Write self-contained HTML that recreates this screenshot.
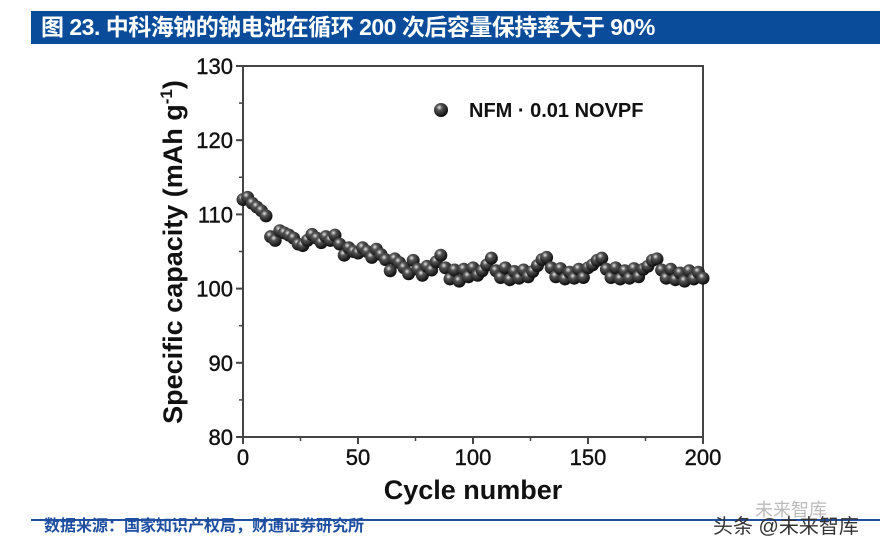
<!DOCTYPE html>
<html><head><meta charset="utf-8"><style>
body{margin:0;background:#fff;width:896px;height:555px;overflow:hidden;position:relative;font-family:"Liberation Sans","Noto Sans CJK SC",sans-serif}
.title{position:absolute;left:31px;top:11px;width:849px;height:33px;background:#0a4b9a;color:#fff;font-size:23px;font-weight:bold;line-height:33px;padding-left:10px;box-sizing:border-box;letter-spacing:-0.5px}
.rule{position:absolute;left:31px;top:519px;width:849px;height:2px;background:#1f4fa0}
.src{position:absolute;left:44px;top:517px;font-size:16px;font-weight:bold;color:#1f4fa0;line-height:20px}
.wm{position:absolute;left:713px;top:515px;font-size:20px;color:#333;line-height:24px}
.wm2{position:absolute;left:755px;top:500px;font-size:18px;color:#bbb;line-height:20px}
</style></head><body>
<div class="title">图 23. 中科海钠的钠电池在循环 200 次后容量保持率大于 90%</div>
<svg width="896" height="555" style="position:absolute;left:0;top:0">
<defs><radialGradient id="sp" cx="0.38" cy="0.32" r="0.7"><stop offset="0" stop-color="#e8e8e8"/><stop offset="0.3" stop-color="#555"/><stop offset="1" stop-color="#080808"/></radialGradient></defs>
<g id="g"></g>
</svg>
<div class="rule"></div>
<div class="src">数据来源：国家知识产权局，财通证券研究所</div>
<div class="wm2">未来智库</div>
<div class="wm">头条 @未来智库</div>
<script>
const xTicks=[0,50,100,150,200];
const yTicks=[80,90,100,110,120,130];
const cycles=[];for(let c=0;c<=200;c+=2)cycles.push(c);
const capacity=[112,112.3,111.5,111,110.5,109.8,
107,106.5,107.8,107.5,107.2,106.8,106,105.8,106.5,107.3,
106.8,106.2,107,106.5,107.2,106,104.5,105.5,105,104.8,
105.5,105,104.2,105.3,104.6,103.9,102.4,104,103.5,102.8,
102,103.8,102.6,101.8,103,102.5,103.6,104.5,102.8,101.3,
102.5,101,102.6,101.6,102.8,101.8,102.4,103.2,104.1,102.4,
101.5,102.8,101.2,102.3,101.4,102.5,101.6,102.3,103.1,103.9,
104.2,102.8,101.6,102.7,101.3,102.2,101.4,102.6,101.5,102.8,
103.2,103.8,104.1,102.6,101.5,102.8,101.3,102.4,101.4,102.7,
101.6,102.6,103,103.8,104,102.5,101.4,102.6,101.2,102.1,
101,102.4,101.3,102.2,101.4];
const X0=243,X1=703,Y0=437,Y1=66;
const sx=v=>X0+(v-0)/200*(X1-X0), sy=v=>Y0-(v-80)/50*(Y0-Y1);
const g=document.getElementById('g'),NS='http://www.w3.org/2000/svg';
function mk(t,a,txt){const e=document.createElementNS(NS,t);for(const k in a)e.setAttribute(k,a[k]);if(txt!=null)e.textContent=txt;g.appendChild(e);return e;}
let e=mk('rect',{x:X0,y:Y1,width:X1-X0,height:Y0-Y1,fill:'none',stroke:'#444','stroke-width':2});


xTicks.forEach(v=>{mk('line',{x1:sx(v),x2:sx(v),y1:Y0,y2:Y0+7,stroke:'#444','stroke-width':2});
const t=mk('text',{x:sx(v),y:Y0+28,'text-anchor':'middle','font-size':22,'font-family':'Liberation Sans',fill:'#111','stroke':'#111','stroke-width':0.4},v);

});
for(let v=25;v<200;v+=50)mk('line',{x1:sx(v),x2:sx(v),y1:Y0,y2:Y0+4,stroke:'#444','stroke-width':1.5});
yTicks.forEach(v=>{mk('line',{x1:X0-7,x2:X0,y1:sy(v),y2:sy(v),stroke:'#444','stroke-width':2});
const t=mk('text',{x:X0-10,y:sy(v)+8,'text-anchor':'end','font-size':22,'font-family':'Liberation Sans',fill:'#111','stroke':'#111','stroke-width':0.4},v);

});
for(let v=85;v<130;v+=10)mk('line',{x1:X0-4,x2:X0,y1:sy(v),y2:sy(v),stroke:'#444','stroke-width':1.5});
let xt=mk('text',{x:473,y:499,'text-anchor':'middle','font-size':27,'font-weight':'bold','font-family':'Liberation Sans',fill:'#111'},'Cycle number');


let yt=mk('text',{x:0,y:0,'text-anchor':'middle','font-size':27,'font-weight':'bold','font-family':'Liberation Sans',fill:'#111',transform:'translate(182,252) rotate(-90)'});
yt.innerHTML='Specific capacity (mAh g<tspan dy="-10" font-size="17">-1</tspan><tspan dy="10">)</tspan>';


cycles.forEach((c,i)=>{const p=mk('circle',{cx:sx(c),cy:sy(capacity[i]),r:6.5,fill:'url(#sp)'});

});
let lm=mk('circle',{cx:441,cy:110,r:7,fill:'url(#sp)'});


let lt=mk('text',{x:469,y:117,'font-size':20,'font-weight':'bold','font-family':'Liberation Sans',fill:'#111'},'NFM · 0.01 NOVPF');


</script>
</body></html>
